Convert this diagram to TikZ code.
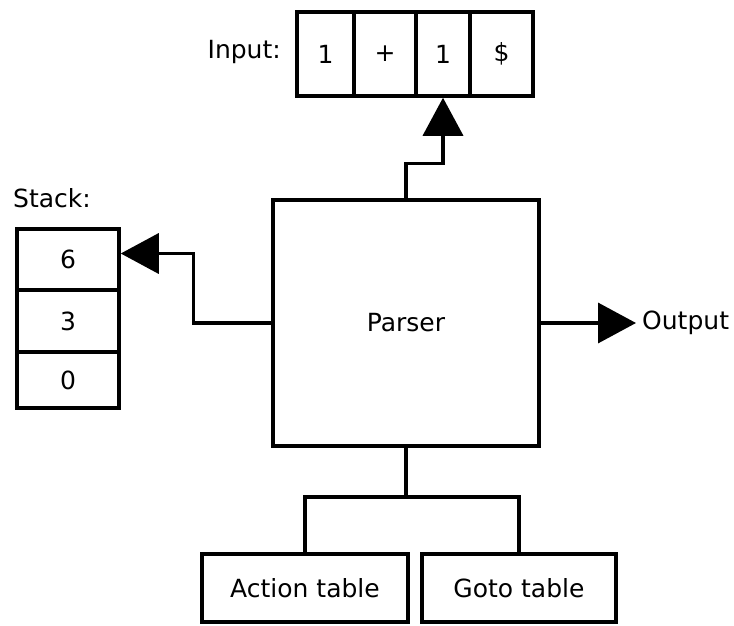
\documentclass[tikz,border=0pt]{standalone}
\usepackage{fontspec}
\setmainfont{DejaVu Sans}
\usetikzlibrary{arrows.meta,positioning,calc}

\begin{document}
\begin{tikzpicture}[x=1pt, y=-1pt,
    every node/.style={font=\fontsize{25}{30}\selectfont, inner sep=0pt},
    box/.style={rectangle, draw=black, line width=3.5pt},
    link/.style={draw=black, line width=3.5pt},
    flow/.style={link, -{Triangle[length=38pt,width=40pt]}}]
    \useasboundingbox (0,0) rectangle (734,626);

    % Input tape
    \node[anchor=east] (inlbl) at (281,52) {Input:};
    \node[box, minimum width=57pt, minimum height=84pt] (in1) at (325.5,54) {1};
    \node[box, minimum width=62pt, minimum height=84pt] (in2) at (385,54) {+};
    \node[box, minimum width=54pt, minimum height=84pt] (in3) at (443,54) {1};
    \node[box, minimum width=63pt, minimum height=84pt] (in4) at (501.5,54) {\$};

    % Stack
    \node (stlbl) at (52,198) {Stack:};
    \node[box, minimum width=102pt, minimum height=61pt] (s6) at (68,259.5) {6};
    \node[box, minimum width=102pt, minimum height=62pt] (s3) at (68,321) {3};
    \node[box, minimum width=102pt, minimum height=56pt] (s0) at (68,380) {0};

    % Parser and tables
    \node[box, minimum width=266pt, minimum height=246pt] (parser) at (406,323) {Parser};
    \node[box, minimum width=206pt, minimum height=68pt] (act) at (305,588) {Action table};
    \node[box, minimum width=194pt, minimum height=68pt] (gto) at (519,588) {Goto table};
    \node[anchor=west, inner sep=6pt] (out) at (636,323) {Output};

    % Connections
    \draw[flow] (parser.north) -- ++(0,-35) -| (in3.south);
    \draw[flow] (parser.west) -- ++(-78,0) |- ([yshift=6pt]s6.east);
    \draw[flow] (parser.east) -- (out.west);
    \draw[link] (parser.south) -- ++(0,49) coordinate (fork);
    \draw[link] (act.north) |- (fork) -| (gto.north);
\end{tikzpicture}
\end{document}
